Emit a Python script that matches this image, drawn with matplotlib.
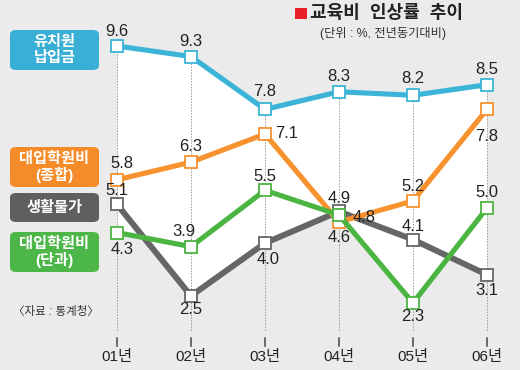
import numpy as np
import matplotlib.pyplot as plt
from matplotlib.patches import FancyBboxPatch, Rectangle

plt.rcParams['font.family'] = ['Liberation Sans', 'Noto Sans CJK KR', 'DejaVu Sans']

# data
years = ['01년', '02년', '03년', '04년', '05년', '06년']
kinder_fee = [9.6, 9.3, 7.8, 8.3, 8.2, 8.5]        # 유치원 납입금
academy_total = [5.8, 6.3, 7.1, 4.6, 5.2, 7.8]     # 대입학원비(종합)
living_cost = [5.1, 2.5, 4.0, 4.9, 4.1, 3.1]       # 생활물가
academy_single = [4.3, 3.9, 5.5, 4.8, 2.3, 5.0]    # 대입학원비(단과)

W, H = 520, 370
BG = '#ebebeb'

fig = plt.figure(figsize=(W / 100, H / 100), dpi=100)
fig.patch.set_facecolor(BG)
ax = fig.add_axes([0, 0, 1, 1])
ax.set_facecolor(BG)
ax.set_xlim(-1.581, 5.446)
ax.set_ylim(0.395, 10.907)
ax.axis('off')

x = np.arange(len(years))


def fpx(px, py):
    # pixel (from top-left) -> figure fraction
    return px / W, 1 - py / H


def pt(px):
    return px * 0.72


# white area between top and bottom envelope
xf = np.linspace(0, len(years) - 1, 600)
all_series = [kinder_fee, academy_total, living_cost, academy_single]
interp = np.array([np.interp(xf, x, s) for s in all_series])
ax.fill_between(xf, interp.min(axis=0), interp.max(axis=0), color='white', lw=0, zorder=1)

# dotted guides + tick marks
for i in x:
    ax.plot([i, i], [1.53, kinder_fee[i]], ls=(0, (1.5, 1.5)), color='#999999', lw=0.7, zorder=2)
    ax.plot([i, i], [1.08, 1.30], color='#444444', lw=1.1, zorder=2)
    ax.text(i, 0.76, years[i], ha='center', va='center', fontsize=11, color='#222222')

# label offsets in pixels (dx, dy downward)
series = [
    (living_cost, '#666666', 4.3, 3,
     [(0, -14), (0, 14), (3, 16), (0, -13), (0, -13), (0, 16)]),
    (academy_total, '#f7922e', 3.7, 4,
     [(5, -16), (0, -16), (22, 0), (0, 16), (0, -14), (0, 27)]),
    (academy_single, '#4bb541', 3.7, 5,
     [(5, 17), (-7, -15), (0, -14), (25, 3), (0, 14), (0, -15)]),
    (kinder_fee, '#3cb4d8', 3.7, 6,
     [(0, -15), (0, -15), (0, -18), (0, -15), (0, -17), (0, -15)]),
]

for vals, col, lw, z, offs in series:
    ax.plot(x, vals, color=col, lw=lw, zorder=z, solid_joinstyle='miter',
            marker='s', ms=8, mfc='white', mec=col, mew=1.3)
    for i, v in enumerate(vals):
        dx, dy = offs[i]
        ax.annotate(f'{v:.1f}', (i, v), xytext=(pt(dx), -pt(dy)), textcoords='offset points',
                    ha='center', va='center', fontsize=12, color='#222222', zorder=10)

# legend boxes on the left
boxes = [
    ('유치원\n납입금', '#3aafd5', 30, 70),
    ('대입학원비\n(종합)', '#f68b2a', 147, 187),
    ('생활물가', '#5f5f5f', 193, 222),
    ('대입학원비\n(단과)', '#4cb748', 232, 272),
]
for txt, col, top, bot in boxes:
    x0, y0 = fpx(10, bot)
    x1, y1 = fpx(99, top)
    fig.patches.append(FancyBboxPatch((x0, y0), x1 - x0, y1 - y0,
                                      boxstyle='round,pad=0,rounding_size=0.012',
                                      transform=fig.transFigure, fc=col, ec='none'))
    cx, cy = fpx(54.5, (top + bot) / 2)
    fig.text(cx, cy, txt, ha='center', va='center', color='white', fontsize=11,
             fontweight='bold', linespacing=1.1)

# title
rx, ry = fpx(295, 19)
fig.patches.append(Rectangle((rx, ry), 12 / W, 11 / H, transform=fig.transFigure,
                             fc='#e8202a', ec='none'))
tx, ty = fpx(310, 13)
fig.text(tx, ty, '교육비  인상률  추이', ha='left', va='center', fontsize=13,
         fontweight='bold', color='#222222')
sx, sy = fpx(383, 33)
fig.text(sx, sy, '(단위 : %, 전년동기대비)', ha='center', va='center', fontsize=8.8,
         color='#333333')

# source
qx, qy = fpx(56, 312)
fig.text(qx, qy, '〈자료 : 통계청〉', ha='center', va='center', fontsize=8.3,
         color='#333333', style='italic')

fig.savefig('out.png', dpi=100, facecolor=BG)
